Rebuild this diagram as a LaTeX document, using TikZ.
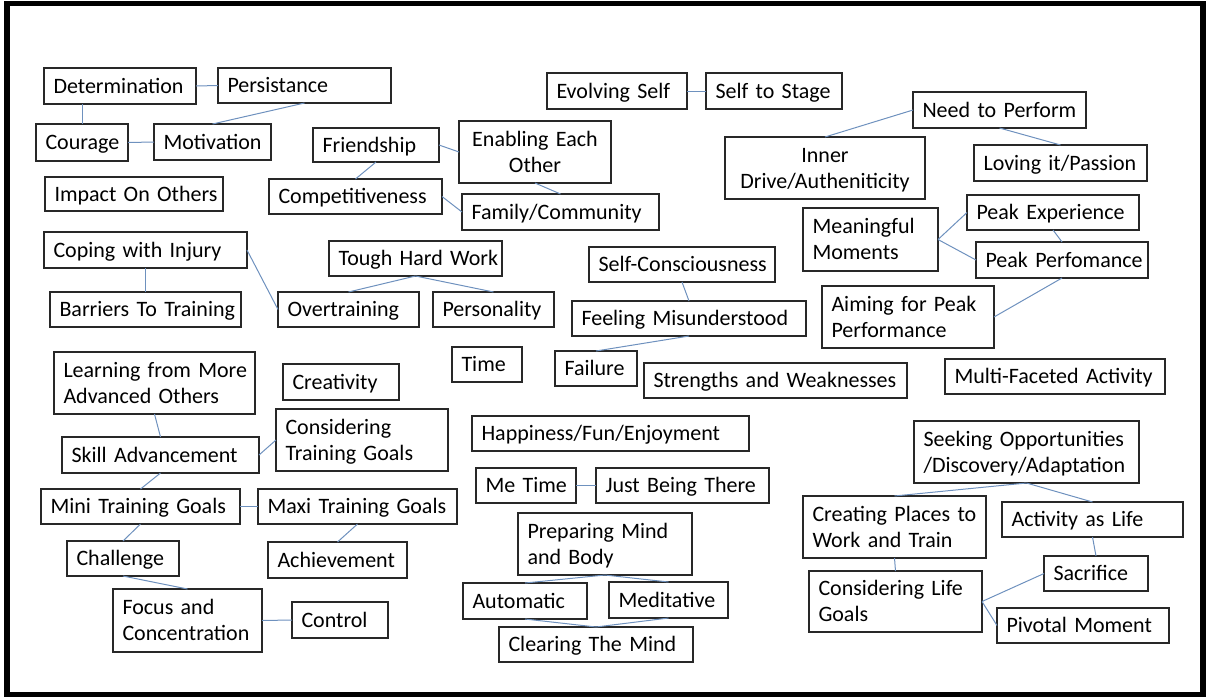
\documentclass[tikz,border=0pt]{standalone}
\usepackage{fontspec}
\setmainfont[WordSpace=0.75]{Carlito}
\definecolor{lnk}{RGB}{110,145,190}
\definecolor{bord}{RGB}{40,40,40}
\tikzset{
  box/.style={draw=bord, line width=1.1pt, rectangle, inner xsep=9.5pt, inner ysep=0pt, outer sep=0pt, font=\fontsize{22}{26}\selectfont},
  al-l/.style={align=left},
  al-c/.style={align=center},
  link/.style={draw=lnk, line width=1pt},
  frame/.style={draw=black, line width=5.5pt}
}
\newcommand\bx[7][l]{%
  \pgfmathsetmacro\bxw{#5-#3-19}%
  \pgfmathsetmacro\bxh{#6-#4}%
  \node[box, al-#1, text width=\bxw pt, minimum height=\bxh pt] (#2) at ({(#3+#5)/2},{(#4+#6)/2}) {\raisebox{-2.2pt}[\height][\depth]{\begin{tabular}{@{}#1@{}}#7\end{tabular}}};%
}
\begin{document}
\begin{tikzpicture}[x=1pt, y=-1pt]
\useasboundingbox (0,0) rectangle (1207,697);
\draw[frame] (7,3.5) rectangle (1203,694.5);
\bx{det}{44}{68}{196}{104}{Determination}
\bx{per}{218}{68}{391}{103}{Persistance}
\bx{cou}{36}{124}{128}{161}{Courage}
\bx{mot}{154}{124}{271}{160}{Motivation}
\bx{imp}{45}{177}{223}{211}{Impact On Others}
\bx{fri}{313}{128}{439}{162}{Friendship}
\bx{com}{269}{179}{442}{214}{Competitiveness}
\bx[c]{ena}{459}{121}{611}{183}{Enabling Each\\Other}
\bx{fam}{462}{194}{659}{230}{Family/Community}
\bx{evo}{547}{73}{687}{109}{Evolving Self}
\bx{sts}{706}{73}{842}{109}{Self to Stage}
\bx[c]{inn}{725}{137}{925}{199}{Inner\\Drive/Autheniticity}
\bx{nee}{913}{92}{1086}{128}{Need to Perform}
\bx{lov}{974}{145}{1147}{181}{Loving it/Passion}
\bx{pex}{967}{195}{1139}{230}{Peak Experience}
\bx{mea}{803}{208}{938}{271}{Meaningful\\Moments}
\bx{ppf}{976}{242}{1148}{278}{Peak Perfomance}
\bx{aim}{822}{286}{994}{348}{Aiming for Peak\\Performance}
\bx{mul}{945}{359}{1165}{394}{Multi-Faceted Activity}
\bx{see}{914}{421}{1139}{483}{Seeking Opportunities\\/Discovery/Adaptation}
\bx{cop}{44}{232}{247}{268}{Coping with Injury}
\bx{bar}{50}{292}{241}{327}{Barriers To Training}
\bx{ove}{278}{292}{419}{327}{Overtraining}
\bx{tou}{329}{241}{502}{276}{Tough Hard Work}
\bx{pers}{433}{292}{554}{327}{Personality}
\bx{lea}{54}{352}{255}{414}{Learning from More\\Advanced Others}
\bx{cre}{283}{364}{399}{400}{Creativity}
\bx{ctg}{276}{409}{448}{471}{Considering\\Training Goals}
\bx{ski}{62}{437}{259}{473}{Skill Advancement}
\bx{min}{41}{489}{240}{524}{Mini Training Goals}
\bx{max}{258}{489}{457}{524}{Maxi Training Goals}
\bx{cha}{67}{541}{179}{576}{Challenge}
\bx{ach}{268}{542}{407}{578}{Achievement}
\bx{foc}{113}{589}{262}{652}{Focus and\\Concentration}
\bx{con}{292}{602}{388}{638}{Control}
\bx{slf}{589}{247}{775}{282}{Self-Consciousness}
\bx{fee}{572}{301}{806}{336}{Feeling Misunderstood}
\bx{tim}{452}{347}{522}{382}{Time}
\bx{fai}{555}{351}{637}{386}{Failure}
\bx{str}{644}{363}{907}{398}{Strengths and Weaknesses}
\bx{hap}{472}{416}{749}{451}{Happiness/Fun/Enjoyment}
\bx{met}{476}{468}{576}{503}{Me Time}
\bx{jus}{596}{468}{769}{503}{Just Being There}
\bx{pre}{518}{513}{692}{575}{Preparing Mind\\and Body}
\bx{aut}{463}{583}{587}{619}{Automatic}
\bx{medi}{609}{582}{728}{618}{Meditative}
\bx{cle}{499}{627}{693}{662}{Clearing The Mind}
\bx{crp}{803}{496}{986}{558}{Creating Places to\\Work and Train}
\bx{act}{1002}{502}{1183}{537}{Activity as Life}
\bx{sac}{1044}{556}{1148}{591}{Sacrifice}
\bx{clg}{809}{571}{982}{632}{Considering Life\\Goals}
\bx{piv}{997}{608}{1169}{643}{Pivotal Moment}
% connectors
\draw[link] (det.east) -- (per.west);
\draw[link] ([xshift=-38pt]det.south) -- (cou.north);
\draw[link] (cou.east) -- (mot.west);
\draw[link] (mot.north) -- (per.south);
\draw[link] (fri.south) -- (com.north);
\draw[link] (fri.east) -- (ena.west);
\draw[link] (com.east) -- (fam.west);
\draw[link] (ena.south) -- (fam.north);
\draw[link] (evo.east) -- (sts.west);
\draw[link] (inn.north) -- (nee.west);
\draw[link] (nee.south) -- (lov.north);
\draw[link] (mea.east) -- (pex.west);
\draw[link] (mea.east) -- (ppf.west);
\draw[link] (pex.south) -- (ppf.north);
\draw[link] (ppf.south) -- (aim.east);
\draw[link] (cop.south) -- (bar.north);
\draw[link] (cop.east) -- (ove.west);
\draw[link] (tou.south) -- (ove.north);
\draw[link] (tou.south) -- (pers.north);
\draw[link] (lea.south) -- (ski.north);
\draw[link] (ski.east) -- (ctg.west);
\draw[link] (ski.south) -- (min.north);
\draw[link] (min.east) -- (max.west);
\draw[link] (min.south) -- (cha.north);
\draw[link] (max.south) -- (ach.north);
\draw[link] (cha.south) -- (foc.north);
\draw[link] (foc.east) -- (con.west);
\draw[link] (slf.south) -- (fee.north);
\draw[link] (fee.south) -- (fai.north);
\draw[link] (met.east) -- (jus.west);
\draw[link] (pre.south) -- (aut.north);
\draw[link] (pre.south) -- (medi.north);
\draw[link] (cle.north) -- (aut.south);
\draw[link] (cle.north) -- (medi.south);
\draw[link] (see.south) -- (crp.north);
\draw[link] (see.south) -- (act.north);
\draw[link] (act.south) -- (sac.north);
\draw[link] (crp.south) -- (clg.north);
\draw[link] (clg.east) -- (sac.west);
\draw[link] (clg.east) -- (piv.west);
\end{tikzpicture}
\end{document}
